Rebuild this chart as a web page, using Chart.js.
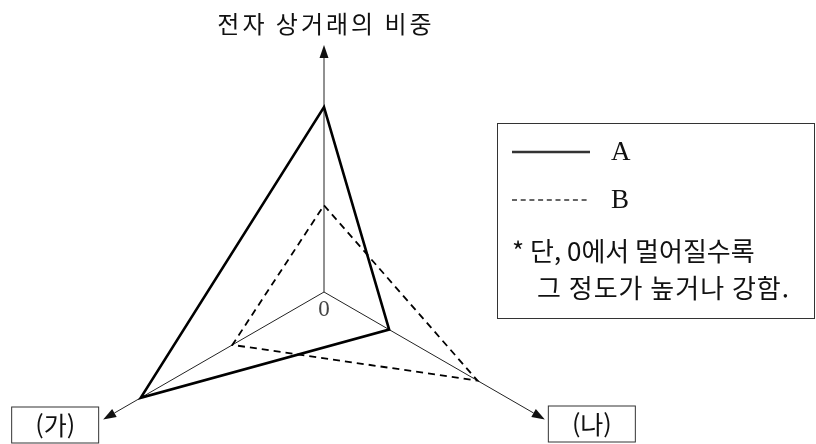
<!DOCTYPE html>
<html lang="ko">
<head>
<meta charset="UTF-8">
<title>전자 상거래의 비중</title>
<script src="https://cdn.jsdelivr.net/npm/chart.js"></script>
<style>
  html, body { margin: 0; padding: 0; background: #fff; overflow: hidden; }
  #wrap { position: absolute; left: 0; top: 0; width: 816px; height: 560px; }
</style>
</head>
<body>
<div id="wrap"><canvas id="radar"></canvas></div>
<script>
// Chart.js walks the axes clockwise from the top: top, bottom-right, bottom-left
const axisLabels = ['전자 상거래의 비중', '(나)', '(가)'];
const seriesA = [7.25, 2.95, 8.3];
const seriesB = [3.4, 6.95, 4.15];
const seriesNames = ['A', 'B'];
const noteLines = ['* 단, 0에서 멀어질수록', '그 정도가 높거나 강함.'];

const KR = '"Noto Sans CJK KR", "Noto Sans", sans-serif';
const SERIF = '"Liberation Serif", "DejaVu Serif", serif';

// axes, arrows, axis labels and the legend box
const decorations = {
    id: 'decorations',
    beforeDatasetsDraw(chart) {
        const r = chart.scales.r;
        const ctx = chart.ctx;
        const axisLen = [247, 255, 255];
        ctx.save();
        ctx.strokeStyle = '#222';
        ctx.fillStyle = '#111';
        ctx.lineWidth = 1;
        axisLabels.forEach((_, i) => {
            const tip = r.getPointPosition(i, axisLen[i]);
            const a = Math.atan2(tip.y - r.yCenter, tip.x - r.xCenter);
            const L = 13, W = 4.5;
            const bx = tip.x - L * Math.cos(a), by = tip.y - L * Math.sin(a);
            ctx.beginPath();
            ctx.moveTo(r.xCenter, r.yCenter);
            ctx.lineTo(bx, by);
            ctx.stroke();
            ctx.beginPath();
            ctx.moveTo(tip.x, tip.y);
            ctx.lineTo(bx - W * Math.sin(a), by + W * Math.cos(a));
            ctx.lineTo(bx + W * Math.sin(a), by - W * Math.cos(a));
            ctx.closePath();
            ctx.fill();
        });
        // origin mark
        ctx.fillStyle = '#444';
        ctx.font = '23px ' + SERIF;
        ctx.textAlign = 'center';
        ctx.textBaseline = 'middle';
        ctx.fillText('0', r.xCenter, r.yCenter + 18);
        ctx.restore();
    },
    afterDraw(chart) {
        const r = chart.scales.r;
        const ctx = chart.ctx;
        const axisLen = [247, 255, 255];
        ctx.save();
        ctx.fillStyle = '#111';
        ctx.strokeStyle = '#333';
        ctx.textBaseline = 'middle';

        // top axis title
        const top = r.getPointPosition(0, axisLen[0]);
        ctx.font = '24px ' + KR;
        ctx.textAlign = 'center';
        ctx.letterSpacing = '3px';
        ctx.fillText(axisLabels[0], top.x + 2, 24);
        ctx.letterSpacing = '0px';

        // boxed labels at the two lower arrows
        const right = r.getPointPosition(1, axisLen[1]);
        const left = r.getPointPosition(2, axisLen[2]);
        const boxes = [
            { text: axisLabels[2], x: left.x - 92, y: left.y - 13 },
            { text: axisLabels[1], x: right.x + 3, y: right.y - 14 }
        ];
        ctx.lineWidth = 1;
        ctx.font = '25px ' + KR;
        boxes.forEach(b => {
            ctx.strokeRect(b.x + 0.5, b.y + 0.5, 87, 36);
            ctx.fillText(b.text, b.x + 44, b.y + 19);
        });

        // legend box
        ctx.strokeRect(497.5, 123.5, 317, 195);
        ctx.lineWidth = 2.5;
        ctx.beginPath();
        ctx.moveTo(512, 152);
        ctx.lineTo(590, 152);
        ctx.stroke();
        ctx.lineWidth = 1.5;
        ctx.setLineDash([5, 3.7]);
        ctx.beginPath();
        ctx.moveTo(512, 200);
        ctx.lineTo(590, 200);
        ctx.stroke();
        ctx.setLineDash([]);
        ctx.textAlign = 'left';
        ctx.font = '27px ' + SERIF;
        ctx.fillText(seriesNames[0], 611, 153);
        ctx.fillText(seriesNames[1], 611, 201);
        ctx.font = '26px ' + KR;
        ctx.fillText(noteLines[0], 512, 251);
        ctx.letterSpacing = '1px';
        ctx.fillText(noteLines[1], 537, 288);
        ctx.letterSpacing = '0px';
        ctx.restore();
    }
};

const ctx = document.getElementById('radar').getContext('2d');
new Chart(ctx, {
    type: 'radar',
    data: {
        labels: axisLabels,
        datasets: [{
            label: seriesNames[0],
            data: seriesA,
            borderColor: '#000',
            borderWidth: 2.6,
            borderJoinStyle: 'miter',
            pointRadius: 0,
            fill: false
        }, {
            label: seriesNames[1],
            data: seriesB,
            borderColor: '#000',
            borderWidth: 1.8,
            borderDash: [7, 5],
            pointRadius: 0,
            fill: false
        }]
    },
    options: {
        responsive: true,
        maintainAspectRatio: false,
        animation: false,
        layout: { padding: { left: 69, right: 237, top: 37, bottom: 13 } },
        plugins: { legend: { display: false }, tooltip: { enabled: false } },
        elements: { line: { tension: 0 } },
        scales: {
            r: {
                min: 0,
                max: 10,
                ticks: { display: false },
                grid: { display: false },
                angleLines: { display: false },
                pointLabels: { display: false }
            }
        }
    },
    plugins: [decorations]
});
</script>
</body>
</html>
